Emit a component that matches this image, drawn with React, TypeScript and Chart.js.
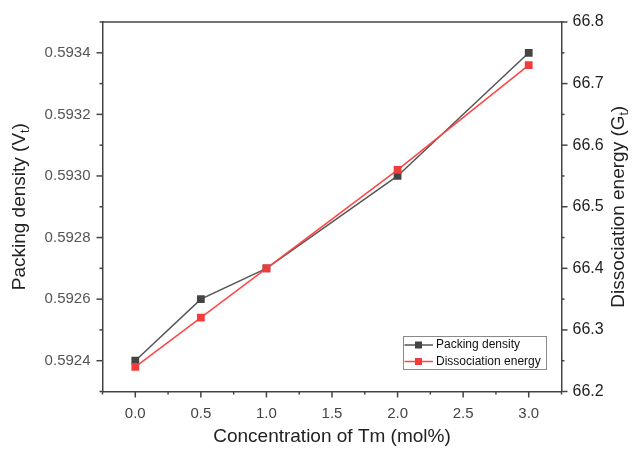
import React, { useEffect, useRef } from 'react';
import { Chart, registerables } from 'chart.js';

Chart.register(...registerables);

// ---- data ----
const concentrations = [0, 0.5, 1.0, 2.0, 3.0];
const packingDensity = [0.5924, 0.5926, 0.5927, 0.593, 0.5934];
const dissociationEnergy = [66.24, 66.32, 66.4, 66.56, 66.73];

const seriesLabels = ['Packing density', 'Dissociation energy'];

const xTicks = [0, 0.5, 1, 1.5, 2, 2.5, 3];
const xMinorTicks = [-0.25, 0.25, 0.75, 1.25, 1.75, 2.25, 2.75, 3.25];
const leftTicks = [0.5924, 0.5926, 0.5928, 0.593, 0.5932, 0.5934];
const leftMinorTicks = [0.5923, 0.5925, 0.5927, 0.5929, 0.5931, 0.5933, 0.5935];
const rightTicks = [66.2, 66.3, 66.4, 66.5, 66.6, 66.7, 66.8];
const rightMinorTicks = [66.25, 66.35, 66.45, 66.55, 66.65, 66.75];

const xTitle = 'Concentration of Tm (mol%)';
const leftTitle = { main: 'Packing density (V', sub: 't', tail: ')' };
const rightTitle = { main: 'Dissociation energy (G', sub: 't', tail: ')' };

const FONT = '"Liberation Sans", Arial, sans-serif';
const GRAY = '#444444';
const RED = '#f23c3c';
const AXIS = '#444444';

function drawRotatedTitle(ctx: CanvasRenderingContext2D, x: number, y: number, t: { main: string; sub: string; tail: string }, size: number) {
  ctx.save();
  ctx.translate(x, y);
  ctx.rotate(-Math.PI / 2);
  ctx.fillStyle = '#222';
  ctx.textBaseline = 'middle';
  ctx.textAlign = 'left';
  const mainFont = `${size}px ${FONT}`;
  const subFont = `${Math.round(size * 0.65)}px ${FONT}`;
  ctx.font = mainFont;
  const w1 = ctx.measureText(t.main).width;
  const w3 = ctx.measureText(t.tail).width;
  ctx.font = subFont;
  const w2 = ctx.measureText(t.sub).width;
  const start = -(w1 + w2 + w3) / 2;
  ctx.font = mainFont;
  ctx.fillText(t.main, start, 0);
  ctx.font = subFont;
  ctx.fillText(t.sub, start + w1, size * 0.3);
  ctx.font = mainFont;
  ctx.fillText(t.tail, start + w1 + w2, 0);
  ctx.restore();
}

const decorPlugin = {
  id: 'decor',
  afterDraw(chart: any) {
    const ctx: CanvasRenderingContext2D = chart.ctx;
    const area = chart.chartArea;
    const sx = chart.scales.x;
    const sy = chart.scales.y;
    const sy1 = chart.scales.y1;
    ctx.save();
    // top frame line
    ctx.strokeStyle = AXIS;
    ctx.lineWidth = 1.5;
    ctx.beginPath();
    ctx.moveTo(area.left, area.top);
    ctx.lineTo(area.right, area.top);
    ctx.stroke();
    // tick marks
    ctx.lineWidth = 1.5;
    const tickX = (vals: number[], len: number) => {
      vals.forEach((v) => {
        const p = sx.getPixelForValue(v);
        ctx.beginPath();
        ctx.moveTo(p, area.bottom);
        ctx.lineTo(p, area.bottom + len);
        ctx.stroke();
      });
    };
    const tickL = (vals: number[], len: number) => {
      vals.forEach((v) => {
        const p = sy.getPixelForValue(v);
        ctx.beginPath();
        ctx.moveTo(area.left, p);
        ctx.lineTo(area.left - len, p);
        ctx.stroke();
      });
    };
    const tickR = (vals: number[], len: number) => {
      vals.forEach((v) => {
        const p = sy1.getPixelForValue(v);
        ctx.beginPath();
        ctx.moveTo(area.right, p);
        ctx.lineTo(area.right + len, p);
        ctx.stroke();
      });
    };
    tickX(xTicks, 6);
    tickX(xMinorTicks, 3);
    tickL(leftTicks, 6);
    tickL(leftMinorTicks, 3);
    tickR(rightTicks, 6);
    tickR(rightMinorTicks, 3);

    // axis titles (rotated, reading bottom-to-top)
    const cy = (area.top + area.bottom) / 2;
    drawRotatedTitle(ctx, 20, cy, leftTitle, 19);
    drawRotatedTitle(ctx, 619, cy, rightTitle, 19);

    // legend
    const bw = 143;
    const bh = 33;
    const bx = area.right - 15.5 - bw;
    const by = area.bottom - 22.5 - bh;
    ctx.fillStyle = '#ffffff';
    ctx.fillRect(bx, by, bw, bh);
    ctx.strokeStyle = '#8a8a8a';
    ctx.lineWidth = 1;
    ctx.strokeRect(Math.round(bx) + 0.5, Math.round(by) + 0.5, bw, bh);
    const colors = [GRAY, RED];
    const lineColors = ['#555555', '#ff4444'];
    seriesLabels.forEach((label, i) => {
      const ry = by + 9 + i * 16.5;
      ctx.strokeStyle = lineColors[i];
      ctx.lineWidth = 1.5;
      ctx.beginPath();
      ctx.moveTo(bx + 1.5, ry);
      ctx.lineTo(bx + 30, ry);
      ctx.stroke();
      ctx.fillStyle = colors[i];
      ctx.fillRect(bx + 15.5 - 3.5, ry - 3.5, 7, 7);
      ctx.fillStyle = '#111';
      ctx.font = `12px ${FONT}`;
      ctx.textBaseline = 'middle';
      ctx.textAlign = 'left';
      ctx.fillText(label, bx + 33, ry);
    });
    ctx.restore();
  },
};

export default function App() {
  const ref = useRef<HTMLCanvasElement | null>(null);
  useEffect(() => {
    document.body.style.margin = '0';
    const canvas = ref.current;
    if (!canvas) return;
    const chart = new Chart(canvas, {
      type: 'line',
      data: {
        datasets: [
          {
            label: seriesLabels[0],
            data: concentrations.map((c, i) => ({ x: c, y: packingDensity[i] })),
            yAxisID: 'y',
            borderColor: '#555555',
            backgroundColor: GRAY,
            borderWidth: 1.5,
            pointStyle: 'rect',
            pointRadius: 5.5,
            pointBorderWidth: 0,
            pointBackgroundColor: GRAY,
            order: 2,
          },
          {
            label: seriesLabels[1],
            data: concentrations.map((c, i) => ({ x: c, y: dissociationEnergy[i] })),
            yAxisID: 'y1',
            borderColor: '#ff4444',
            backgroundColor: RED,
            borderWidth: 1.5,
            pointStyle: 'rect',
            pointRadius: 5.5,
            pointBorderWidth: 0,
            pointBackgroundColor: RED,
            order: 1,
          },
        ],
      },
      options: {
        animation: false,
        responsive: false,
        devicePixelRatio: 1,
        layout: { padding: { top: 22, left: 0, right: 0, bottom: 0 } },
        plugins: { legend: { display: false }, tooltip: { enabled: false } },
        scales: {
          x: {
            type: 'linear',
            position: 'bottom',
            min: -0.25,
            max: 3.25,
            afterBuildTicks: (s: any) => {
              s.ticks = xTicks.map((v) => ({ value: v }));
            },
            afterFit: (s: any) => {
              s.height = 57.5;
            },
            grid: { display: false, drawTicks: false },
            border: { display: true, color: AXIS, width: 1.5 },
            ticks: {
              padding: 13,
              autoSkip: false,
              maxRotation: 0,
              color: '#444',
              font: { family: FONT, size: 15 },
              callback: (v: any) => Number(v).toFixed(1),
            },
            title: {
              display: true,
              text: xTitle,
              color: '#222',
              font: { family: FONT, size: 19 },
              padding: { top: 0, bottom: 1 },
            },
          },
          y: {
            type: 'linear',
            position: 'left',
            min: 0.5923,
            max: 0.5935,
            afterBuildTicks: (s: any) => {
              s.ticks = leftTicks.map((v) => ({ value: v }));
            },
            afterFit: (s: any) => {
              s.width = 102.5;
            },
            grid: { display: false, drawTicks: false },
            border: { display: true, color: AXIS, width: 1.5 },
            ticks: {
              padding: 12,
              color: '#555',
              font: { family: FONT, size: 15 },
              callback: (v: any) => Number(v).toFixed(4),
            },
          },
          y1: {
            type: 'linear',
            position: 'right',
            min: 66.2,
            max: 66.8,
            afterBuildTicks: (s: any) => {
              s.ticks = rightTicks.map((v) => ({ value: v }));
            },
            afterFit: (s: any) => {
              s.width = 71.5;
            },
            grid: { display: false, drawTicks: false },
            border: { display: true, color: AXIS, width: 1.5 },
            ticks: {
              padding: 11,
              color: '#222',
              font: { family: FONT, size: 16 },
              callback: (v: any) => Number(v).toFixed(1),
            },
          },
        },
      },
      plugins: [decorPlugin],
    } as any);
    return () => chart.destroy();
  }, []);
  return (
    <div style={{ position: 'fixed', left: 0, top: 0, width: 633, height: 449, background: '#fff' }}>
      <canvas ref={ref} width={633} height={449} style={{ width: 633, height: 449, display: 'block' }} />
    </div>
  );
}
